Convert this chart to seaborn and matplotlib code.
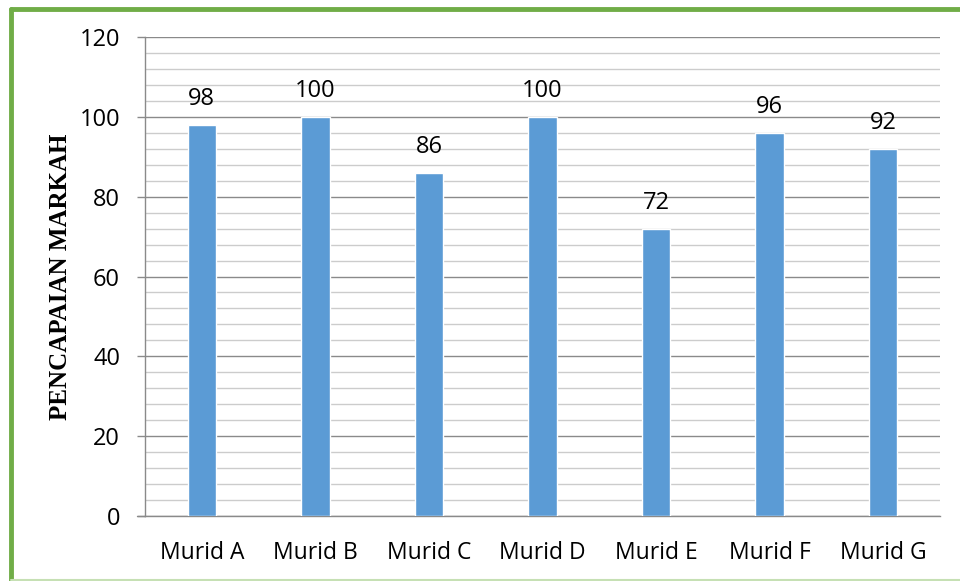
import matplotlib
matplotlib.use("Agg")
import matplotlib.pyplot as plt
import seaborn as sns
import pandas as pd
from matplotlib.lines import Line2D

categories = ["Murid A", "Murid B", "Murid C", "Murid D", "Murid E", "Murid F", "Murid G"]
values = [98, 100, 86, 100, 72, 96, 92]
y_ticks = [0, 20, 40, 60, 80, 100, 120]

df = pd.DataFrame({"murid": categories, "markah": values})

sns.set_theme(style="white")
plt.rcParams["font.family"] = ["Open Sans", "DejaVu Sans"]

fig = plt.figure(figsize=(9.6, 5.81), dpi=100)
ax = fig.add_axes([145/960, 1-516/581, (940-145)/960, (516-37)/581])

sns.barplot(data=df, x="murid", y="markah", color="#5B9BD5", width=0.25,
            saturation=1, ax=ax, zorder=3)

ax.set_ylim(0, 120)
ax.set_yticks(y_ticks)
ax.set_yticks(range(0, 121, 4), minor=True)
ax.grid(axis="y", which="major", color="#8a8a8a", linewidth=1.0, zorder=0)
ax.grid(axis="y", which="minor", color="#cccccc", linewidth=1.0, zorder=0)
ax.set_axisbelow(True)

for s in ["top", "right"]:
    ax.spines[s].set_visible(False)
ax.spines["left"].set_color("#8a8a8a")
ax.spines["bottom"].set_color("#8a8a8a")
ax.spines["left"].set_linewidth(1.0)
ax.spines["bottom"].set_linewidth(1.0)

ax.tick_params(axis="y", which="major", length=6, width=1, color="#8a8a8a",
               labelsize=17, pad=12, left=True)
ax.tick_params(axis="y", which="minor", length=0)
ax.tick_params(axis="x", length=0, labelsize=16.5, pad=18)
for lbl in ax.get_xticklabels() + ax.get_yticklabels():
    lbl.set_color("black")

ax.set_xlabel("")
ax.set_ylabel("PENCAPAIAN MARKAH", fontsize=18, fontweight="bold",
              family=["Liberation Serif", "DejaVu Serif"], color="black")
ax.yaxis.set_label_coords(-(145-72)/795, 0.5)

for i, v in enumerate(values):
    ax.annotate(str(v), (i, v), xytext=(0, 10), textcoords="offset points",
                ha="center", va="bottom", fontsize=17, color="black")

ax.set_xlim(-0.5, len(categories) - 0.5)

# extend bottom axis line left to tick
fig.add_artist(Line2D([137/960, 145/960], [1-516/581, 1-516/581], color="#8a8a8a", lw=1))

# green frame
fig.add_artist(Line2D([11/960, 11/960], [0, 1-9/581], color="#70AD47", lw=3.5))
fig.add_artist(Line2D([11/960, 1.0], [1-9/581, 1-9/581], color="#70AD47", lw=3.5))
fig.add_artist(Line2D([11/960, 1.0], [1.5/581, 1.5/581], color="#c6e0b4", lw=1.5))

fig.savefig("out.png", dpi=100)
